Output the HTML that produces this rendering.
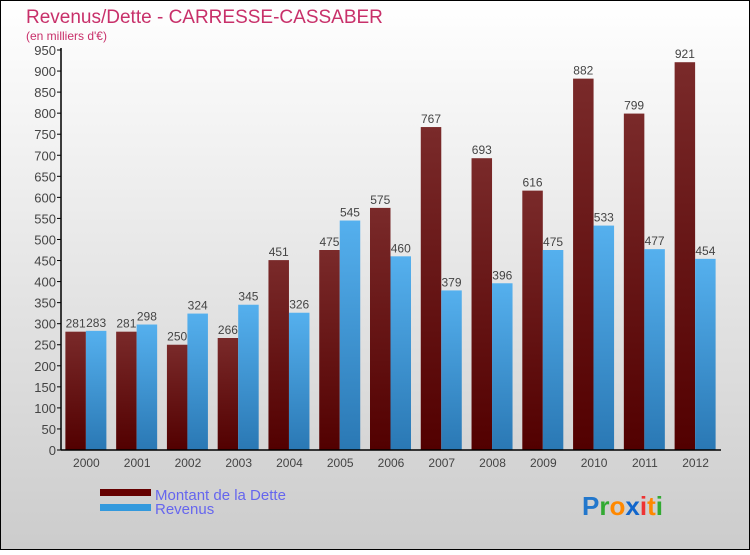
<!DOCTYPE html>
<html><head><meta charset="utf-8"><style>
body{margin:0;width:750px;height:550px;overflow:hidden;font-family:"Liberation Sans",sans-serif}
</style></head><body>
<svg width="750" height="550">
<defs>
<linearGradient id="bg" x1="0" y1="0" x2="0" y2="1"><stop offset="0" stop-color="#ffffff"/><stop offset="1" stop-color="#cccccc"/></linearGradient>
<linearGradient id="gd" x1="0" y1="0" x2="0" y2="1"><stop offset="0" stop-color="#7a2a2a"/><stop offset="1" stop-color="#520000"/></linearGradient>
<linearGradient id="gr" x1="0" y1="0" x2="0" y2="1"><stop offset="0" stop-color="#55b0ee"/><stop offset="1" stop-color="#2a78b4"/></linearGradient>
</defs>
<rect x="0.5" y="0.5" width="749" height="549" fill="url(#bg)" stroke="#000"/>
<text x="26" y="23" font-size="19" fill="#c8306a">Revenus/Dette - CARRESSE-CASSABER</text>
<text x="26" y="40" font-size="12" fill="#c8306a">(en milliers d'€)</text>
<g id="plot"></g>
<rect x="100" y="489" width="51" height="7" fill="#650000"/>
<rect x="100" y="504" width="51" height="7" fill="#3399dd"/>
<text x="155" y="500" font-size="15" fill="#6666ee">Montant de la Dette</text>
<text x="155" y="514" font-size="15" fill="#6666ee">Revenus</text>
<text x="582" y="515" font-size="26" font-weight="bold"><tspan fill="#2277cc">P</tspan><tspan fill="#33aa33">r</tspan><tspan fill="#ff8800">o</tspan><tspan fill="#1166cc">x</tspan><tspan fill="#ee3333">i</tspan><tspan fill="#ff8800">t</tspan><tspan fill="#33aa33">i</tspan></text>
</svg>
<script>
const years=["2000","2001","2002","2003","2004","2005","2006","2007","2008","2009","2010","2011","2012"];
const dette=[281,281,250,266,451,475,575,767,693,616,882,799,921];
const revenus=[283,298,324,345,326,545,460,379,396,475,533,477,454];
const ticks=[0,50,100,150,200,250,300,350,400,450,500,550,600,650,700,750,800,850,900,950];
const NS="http://www.w3.org/2000/svg";
const g=document.getElementById("plot");
const x0=61,x1=721,y0=450,ymax=950,h=400;
const step=(x1-x0)/years.length;
const Y=v=>y0-v/ymax*h;
function mk(t,a,txt){const e=document.createElementNS(NS,t);for(const k in a)e.setAttribute(k,a[k]);if(txt!==undefined)e.textContent=txt;g.appendChild(e);return e;}
ticks.forEach(t=>{
 const l=mk("line",{x1:x0-4,x2:x0,y1:Y(t),y2:Y(t),stroke:"#000"});
 
 
 const tx=mk("text",{x:x0-5,y:Y(t)+5,"text-anchor":"end","font-size":"13",fill:"#444"},t);
 
 
});
years.forEach((yr,i)=>{
 const cx=x0+step*(i+0.5);
 const bw=20.5;
 const d=mk("rect",{x:cx-bw-0.5,y:Y(dette[i]),width:bw,height:y0-Y(dette[i]),fill:"url(#gd)"});
 
 
 const r=mk("rect",{x:cx-0.5,y:Y(revenus[i]),width:bw,height:y0-Y(revenus[i]),fill:"url(#gr)"});
 
 
 const dl=mk("text",{x:cx-bw/2-0.5,y:Y(dette[i])-4,"text-anchor":"middle","font-size":"12",fill:"#444"},dette[i]);
 
 
 const rl=mk("text",{x:cx+bw/2-0.5,y:Y(revenus[i])-4,"text-anchor":"middle","font-size":"12",fill:"#444"},revenus[i]);
 
 
 const xl=mk("text",{x:cx,y:467,"text-anchor":"middle","font-size":"12",fill:"#444"},yr);
 
 
});
const ya=mk("line",{x1:x0,x2:x0,y1:48,y2:y0,stroke:"#000","stroke-width":1.5});


const xa=mk("line",{x1:x0,x2:x1,y1:y0,y2:y0,stroke:"#000","stroke-width":1.5});


</script>
</body></html>
